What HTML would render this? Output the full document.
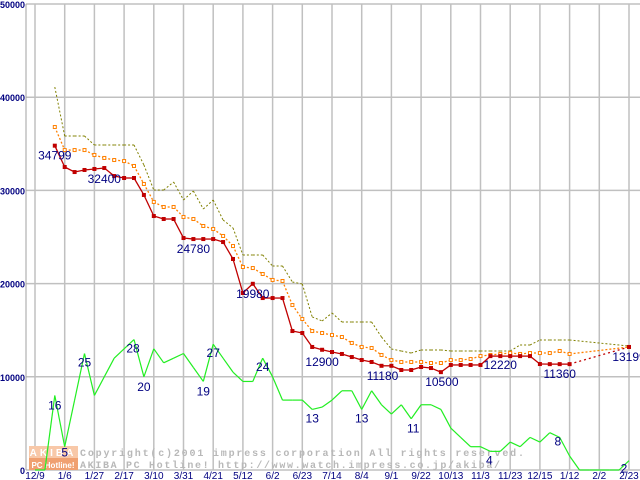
<!DOCTYPE html>
<html><head><meta charset="utf-8"><style>
html,body{margin:0;padding:0;background:#fff;}
svg{display:block;}
</style></head><body>
<svg id="chart" width="640" height="480" viewBox="0 0 640 480" xmlns="http://www.w3.org/2000/svg" font-family="Liberation Sans, sans-serif">
<g id="grid"></g>
<g id="watermark">
  <rect x="29" y="446" width="49" height="12" fill="#f8c8a8"/>
  <rect x="29" y="458" width="49" height="12" fill="#f0a070"/>
  <text x="53" y="456" font-size="10" font-weight="bold" fill="#fff" text-anchor="middle" letter-spacing="3">AKIBA</text>
  <text x="53" y="468" font-size="8" font-weight="bold" fill="#fff" text-anchor="middle">PC Hotline!</text>
  <text x="80" y="456" font-size="10" font-family="Liberation Mono, monospace" font-weight="bold" fill="#b8b8b8" textLength="444">Copyright(c)2001 impress corporation All rights reserved.</text>
  <text x="80" y="468" font-size="10" font-family="Liberation Mono, monospace" font-weight="bold" fill="#b8b8b8" textLength="420">AKIBA PC Hotline!  http://www.watch.impress.co.jp/akiba/</text>
</g>
<g id="series"></g>
<g id="labels"></g>
</svg>
<script>
const yTicks=[0,10000,20000,30000,40000,50000];
const xTickLabels=["12/9","1/6","1/27","2/17","3/10","3/31","4/21","5/12","6/2","6/23","7/14","8/4","9/1","9/22","10/13","11/3","11/23","12/15","1/12","2/2","2/23"];
const minPrice=[null,null,34799,32510,31970,32190,32300,32400,31540,31330,31330,29510,27250,26930,26930,24890,24780,24780,24780,24460,22640,18990,19980,18450,18450,18450,14910,14700,13200,12900,12660,12450,12120,11800,11590,11180,11180,10730,10730,11050,10940,10500,11270,11270,11270,11270,12220,12220,12220,12220,12220,11370,11360,11360,11360,null,null,null,null,null,13199];
const avgPrice=[null,null,36800,34330,34330,34330,33800,33480,33260,33150,32620,30690,28760,28220,28220,27150,26930,26180,25860,25110,24030,21780,21670,21030,20390,20280,17700,16200,14910,14700,14480,14270,13630,13200,13090,12340,11800,11590,11590,11590,11480,11480,11800,11800,11910,12230,12340,12450,12550,12450,12550,12550,12550,12770,12450,null,null,null,null,null,13200];
const maxPrice=[null,null,41090,35840,35840,35840,34870,34870,34870,34870,34870,32730,30040,30040,30900,28970,29940,28000,28970,26820,25970,23070,23070,23070,21890,21890,20170,19960,16420,15990,16850,15880,15880,15880,15880,14270,12980,12770,12550,12880,12880,12880,12770,12770,12770,12770,12770,12770,12770,13410,13410,13950,13950,13950,13950,null,null,null,null,null,13300];
const shopCount=[0,0,16,5,15,25,16,20,24,26,28,20,26,23,24,25,22,19,27,24,21,19,19,24,20,15,15,15,13,13.5,15,17,17,13,17,14,12,14,11,14,14,13,9,7,5,5,4,4,6,5,7,6,8,7,3,0,0,0,0,0,2];
const priceLabels=[[2,"34799",0,14],[7,"32400",0,15],[16,"24780",0,14],[22,"19980",0,14],[29,"12900",0,16],[35,"11180",1,14],[41,"10500",1,14],[47,"12220",0,13],[53,"11360",0,14],[60,"13199",0,14]];
const countLabels=[[2,"16",0,14],[3,"5",0,10],[5,"25",0,13],[10,"28",-1,13],[11,"20",0,14],[17,"19",0,14],[18,"27",0,13],[23,"24",0,13],[28,"13",0,13],[33,"13",0,13],[38,"11",2,14],[46,"4",-1,13],[52,"8",8,13],[60,"2",-5,12]];

const NS="http://www.w3.org/2000/svg";
const X0=35, DX=9.9, Y0=470, K=0.00932;
function xs(i){return X0+i*DX;}
function ys(v){return Y0-v*K;}
function mk(tag,attrs,parent){const e=document.createElementNS(NS,tag);for(const k in attrs)e.setAttribute(k,attrs[k]);parent.appendChild(e);return e;}
const grid=document.getElementById('grid'),ser=document.getElementById('series'),lab=document.getElementById('labels');
yTicks.forEach(t=>{
  const l=mk('line',{x1:26,x2:640,y1:ys(t),y2:ys(t),stroke:'#c0c0c0','stroke-width':1.5},grid);
  
  
  const tx=mk('text',{x:25,y:ys(t)+4,'font-size':9,'font-weight':'bold',fill:'#000080','text-anchor':'end'},grid);
  tx.textContent=String(t);
  
  
});
xTickLabels.forEach((s,k)=>{
  const x=xs(k*3);
  const l=mk('line',{x1:x,x2:x,y1:4,y2:470,stroke:'#c0c0c0','stroke-width':1.5},grid);
  
  
  const tx=mk('text',{x:x,y:479,'font-size':10,fill:'#000080','text-anchor':'middle'},grid);
  tx.textContent=s;
  
  
});
const ax=mk('line',{x1:26,x2:26,y1:4,y2:470,stroke:'#a0a0a0','stroke-width':1},grid);



function segs(arr,f){const pts=[];arr.forEach((v,i)=>{if(v!==null)pts.push([xs(i),f(v),i]);});return pts;}
function drawLine(pts,style,name,gapStyle){
  for(let j=1;j<pts.length;j++){
    const a=pts[j-1],b=pts[j];const gap=b[2]-a[2]>1;
    const st=Object.assign({x1:a[0],y1:a[1],x2:b[0],y2:b[1]},gap&&gapStyle?gapStyle:style);
    const l=mk('line',st,ser);
    
    
  }
}
drawLine(segs(shopCount,v=>ys(v*500)),{stroke:'#22ee22','stroke-width':1.2},'shop-count-line');
drawLine(segs(maxPrice,ys),{stroke:'#808000','stroke-width':1,'stroke-dasharray':'2,2'},'max-price-line');
const ap=segs(avgPrice,ys);
drawLine(ap,{stroke:'#ff8000','stroke-width':1.3,'stroke-dasharray':'2,2'},'avg-price-line');
ap.forEach(p=>{const r=mk('rect',{x:p[0]-1.5,y:p[1]-1.5,width:3,height:3,fill:'#fff',stroke:'#ff8000','stroke-width':1},ser);
  
  });
const mp=segs(minPrice,ys);
drawLine(mp,{stroke:'#c00000','stroke-width':1.3},'min-price-line',{stroke:'#c00000','stroke-width':1.3,'stroke-dasharray':'2,3'});
mp.forEach(p=>{const r=mk('rect',{x:p[0]-2,y:p[1]-2,width:4,height:4,fill:'#c00000'},ser);
  
  });
priceLabels.forEach(([i,s,dx,dy])=>{
  const t=mk('text',{x:xs(i)+dx,y:ys(minPrice[i])+dy,'font-size':12,fill:'#000080','text-anchor':'middle'},lab);
  t.textContent=s;
  
  
});
countLabels.forEach(([i,s,dx,dy])=>{
  const t=mk('text',{x:xs(i)+dx,y:ys(shopCount[i]*500)+dy,'font-size':12,fill:'#000080','text-anchor':'middle'},lab);
  t.textContent=s;
  
  
});
</script>
</body></html>
